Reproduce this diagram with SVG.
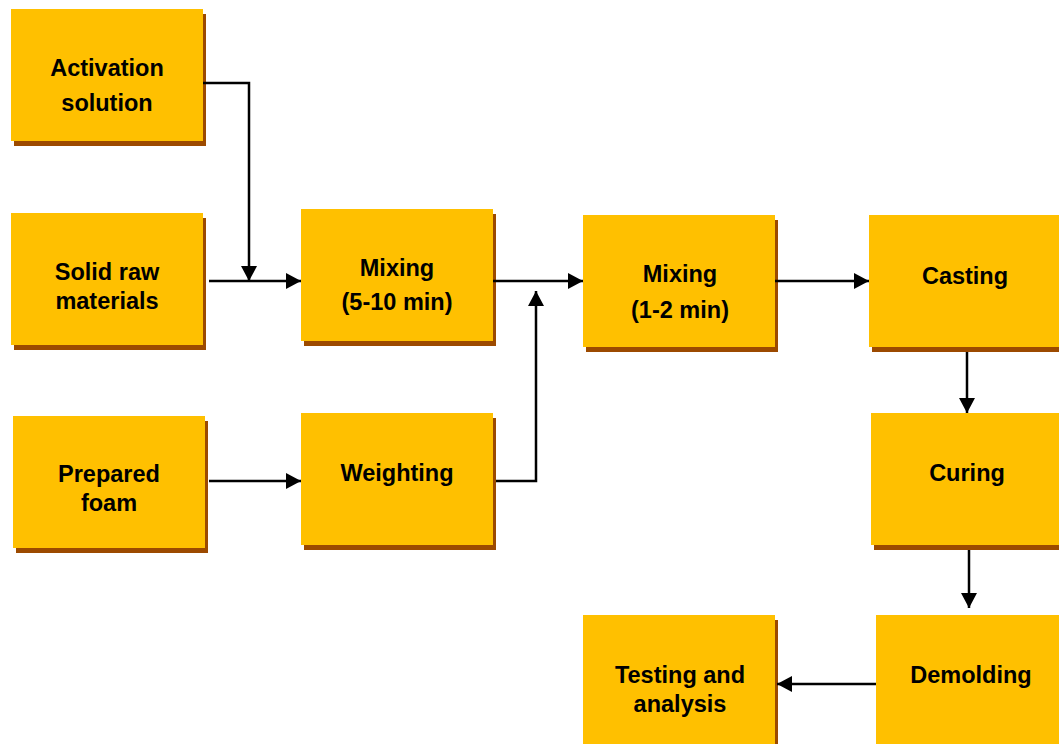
<svg xmlns="http://www.w3.org/2000/svg" width="1059" height="744" viewBox="0 0 1059 744">
  <defs>
    <marker id="arrow" viewBox="0 0 15 16" refX="15" refY="8" markerWidth="15" markerHeight="16" markerUnits="userSpaceOnUse" orient="auto">
      <path d="M0,0 L15,8 L0,16 Z" fill="#000"/>
    </marker>
    <style>
      .shadow { fill: #9C4A00; }
      .box { fill: #FFC000; }
      .label { font-family: "Liberation Sans", Arial, sans-serif; font-weight: bold; font-size: 23.5px; fill: #000; text-anchor: middle; }
      .conn { fill: none; stroke: #000; stroke-width: 2.5; }
    </style>
  </defs>
  <rect width="1059" height="744" fill="#fff"/>

  <g id="activation-solution">
    <rect class="shadow" x="14" y="14" width="192" height="132"/>
    <rect class="box" x="11" y="9" width="192" height="132"/>
    <text class="label" x="107" y="76">Activation</text>
    <text class="label" x="107" y="111">solution</text>
  </g>

  <g id="solid-raw-materials">
    <rect class="shadow" x="14" y="218" width="192" height="132"/>
    <rect class="box" x="11" y="213" width="192" height="132"/>
    <text class="label" x="107" y="280">Solid raw</text>
    <text class="label" x="107" y="309">materials</text>
  </g>

  <g id="prepared-foam">
    <rect class="shadow" x="16" y="421" width="192" height="132"/>
    <rect class="box" x="13" y="416" width="192" height="132"/>
    <text class="label" x="109" y="482">Prepared</text>
    <text class="label" x="109" y="511">foam</text>
  </g>

  <g id="mixing-1">
    <rect class="shadow" x="304" y="214" width="192" height="132"/>
    <rect class="box" x="301" y="209" width="192" height="132"/>
    <text class="label" x="397" y="276">Mixing</text>
    <text class="label" x="397" y="310">(5-10 min)</text>
  </g>

  <g id="weighting">
    <rect class="shadow" x="304" y="418" width="192" height="132"/>
    <rect class="box" x="301" y="413" width="192" height="132"/>
    <text class="label" x="397" y="481">Weighting</text>
  </g>

  <g id="mixing-2">
    <rect class="shadow" x="586" y="220" width="192" height="132"/>
    <rect class="box" x="583" y="215" width="192" height="132"/>
    <text class="label" x="680" y="282">Mixing</text>
    <text class="label" x="680" y="318">(1-2 min)</text>
  </g>

  <g id="casting">
    <rect class="shadow" x="872" y="220" width="192" height="132"/>
    <rect class="box" x="869" y="215" width="192" height="132"/>
    <text class="label" x="965" y="284">Casting</text>
  </g>

  <g id="curing">
    <rect class="shadow" x="874" y="418" width="192" height="132"/>
    <rect class="box" x="871" y="413" width="192" height="132"/>
    <text class="label" x="967" y="481">Curing</text>
  </g>

  <g id="demolding">
    <rect class="shadow" x="879" y="620" width="192" height="132"/>
    <rect class="box" x="876" y="615" width="192" height="132"/>
    <text class="label" x="971" y="683">Demolding</text>
  </g>

  <g id="testing-and-analysis">
    <rect class="shadow" x="586" y="620" width="192" height="132"/>
    <rect class="box" x="583" y="615" width="192" height="132"/>
    <text class="label" x="680" y="683">Testing and</text>
    <text class="label" x="680" y="712">analysis</text>
  </g>

  <g id="connectors">
    <path class="conn" d="M203,83 H249 V281" marker-end="url(#arrow)"/>
    <path class="conn" d="M209,281 H301" marker-end="url(#arrow)"/>
    <path class="conn" d="M209,481 H301" marker-end="url(#arrow)"/>
    <path class="conn" d="M493,281 H583" marker-end="url(#arrow)"/>
    <path class="conn" d="M496,481 H536 V291" marker-end="url(#arrow)"/>
    <path class="conn" d="M775,281 H869" marker-end="url(#arrow)"/>
    <path class="conn" d="M967,352 V413" marker-end="url(#arrow)"/>
    <path class="conn" d="M969,550 V608" marker-end="url(#arrow)"/>
    <path class="conn" d="M876,684 H777" marker-end="url(#arrow)"/>
  </g>
</svg>
